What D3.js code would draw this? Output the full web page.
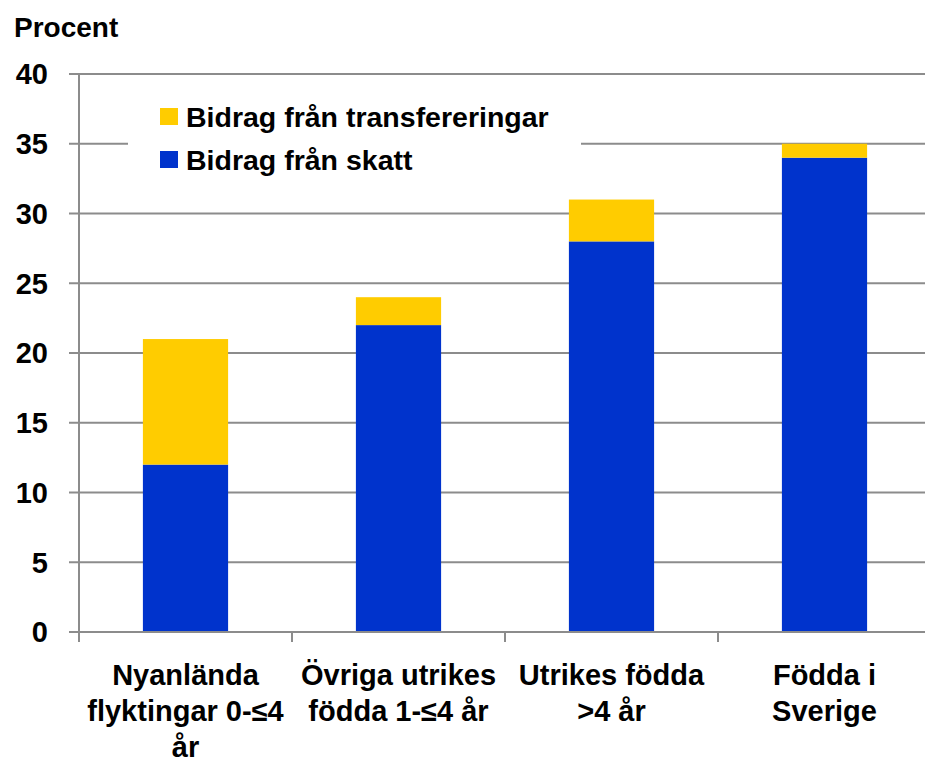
<!DOCTYPE html>
<html lang="sv">
<head>
    <meta charset="UTF-8">
    <title>Bidrag från skatt och transfereringar</title>
    <script src="https://cdn.jsdelivr.net/npm/d3@7"></script>
    <style>
        body { margin: 0; background: #fff; }
        text { font-family: "Liberation Sans", Arial, sans-serif; font-weight: bold; fill: #000; }
    </style>
</head>
<body>
    <div id="chart"></div>

    <script>
        // data
        const categories = [
            ["Nyanlända", "flyktingar 0-≤4", "år"],
            ["Övriga utrikes", "födda 1-≤4 år"],
            ["Utrikes födda", ">4 år"],
            ["Födda i", "Sverige"]
        ];
        const skatt = [12, 22, 28, 34];
        const transfereringar = [9, 2, 3, 1];
        const yTicks = [0, 5, 10, 15, 20, 25, 30, 35, 40];
        const seriesNames = ["Bidrag från transfereringar", "Bidrag från skatt"];
        const seriesColors = ["#ffcc00", "#0033cc"];

        const width = 925, height = 763;
        const plotLeft = 79, plotTop = 74, plotBottom = 632;
        const slotWidth = 213;

        const svg = d3.select("#chart")
            .append("svg")
            .attr("width", width)
            .attr("height", height);

        const x = d3.scaleBand()
            .domain(d3.range(categories.length))
            .range([plotLeft, plotLeft + slotWidth * categories.length])
            .padding(0);

        const y = d3.scaleLinear()
            .domain([0, 40])
            .range([plotBottom, plotTop]);

        const grey = "#8c8c8c";

        // gridlines
        svg.append("g")
            .selectAll("line")
            .data(yTicks.filter(d => d > 0))
            .join("line")
            .attr("x1", plotLeft - 10)
            .attr("x2", width)
            .attr("y1", d => y(d))
            .attr("y2", d => y(d))
            .attr("stroke", grey)
            .attr("stroke-width", 2);

        // y tick labels
        svg.append("g")
            .selectAll("text")
            .data(yTicks)
            .join("text")
            .attr("x", 48)
            .attr("y", d => y(d))
            .attr("dy", "0.36em")
            .attr("text-anchor", "end")
            .style("font-size", "29px")
            .text(d => d);

        svg.append("text")
            .attr("x", 14)
            .attr("y", 37)
            .style("font-size", "28px")
            .text("Procent");

        // stacked bars
        const barW = slotWidth * 0.4;
        const barX = i => x(i) + x.bandwidth() / 2 - barW / 2;

        svg.append("g")
            .selectAll("rect")
            .data(skatt)
            .join("rect")
            .attr("x", (d, i) => barX(i))
            .attr("width", barW)
            .attr("y", d => y(d))
            .attr("height", d => y(0) - y(d))
            .attr("fill", seriesColors[1]);

        svg.append("g")
            .selectAll("rect")
            .data(transfereringar)
            .join("rect")
            .attr("x", (d, i) => barX(i))
            .attr("width", barW)
            .attr("y", (d, i) => y(skatt[i] + d))
            .attr("height", (d, i) => y(skatt[i]) - y(skatt[i] + d))
            .attr("fill", seriesColors[0]);

        // axes
        svg.append("line")
            .attr("x1", plotLeft).attr("x2", plotLeft)
            .attr("y1", plotTop).attr("y2", plotBottom + 10)
            .attr("stroke", grey).attr("stroke-width", 2);

        svg.append("line")
            .attr("x1", plotLeft - 10).attr("x2", width)
            .attr("y1", plotBottom).attr("y2", plotBottom)
            .attr("stroke", grey).attr("stroke-width", 2);

        svg.append("g")
            .selectAll("line")
            .data(d3.range(categories.length))
            .join("line")
            .attr("x1", d => x(d)).attr("x2", d => x(d))
            .attr("y1", plotBottom).attr("y2", plotBottom + 10)
            .attr("stroke", grey).attr("stroke-width", 2);

        // category labels
        const catLabels = svg.append("g")
            .selectAll("text")
            .data(categories)
            .join("text")
            .attr("x", (d, i) => x(i) + x.bandwidth() / 2)
            .attr("y", 685)
            .attr("text-anchor", "middle")
            .style("font-size", "29px");

        catLabels.selectAll("tspan")
            .data(d => d)
            .join("tspan")
            .attr("x", function() { return d3.select(this.parentNode).attr("x"); })
            .attr("dy", (d, i) => i === 0 ? 0 : 36)
            .text(d => d);

        // legend
        const legend = svg.append("g");
        legend.append("rect")
            .attr("x", 128).attr("y", 92)
            .attr("width", 453).attr("height", 90)
            .attr("fill", "#fff");

        const rows = legend.selectAll("g.row")
            .data(seriesNames)
            .join("g")
            .attr("class", "row")
            .attr("transform", (d, i) => `translate(160, ${117 + i * 43})`);

        rows.append("rect")
            .attr("x", 0).attr("y", -9)
            .attr("width", 18).attr("height", 17)
            .attr("fill", (d, i) => seriesColors[i]);

        rows.append("text")
            .attr("x", 26)
            .attr("y", 0)
            .attr("dy", "0.36em")
            .style("font-size", "28.5px")
            .text(d => d);
    </script>
</body>
</html>
